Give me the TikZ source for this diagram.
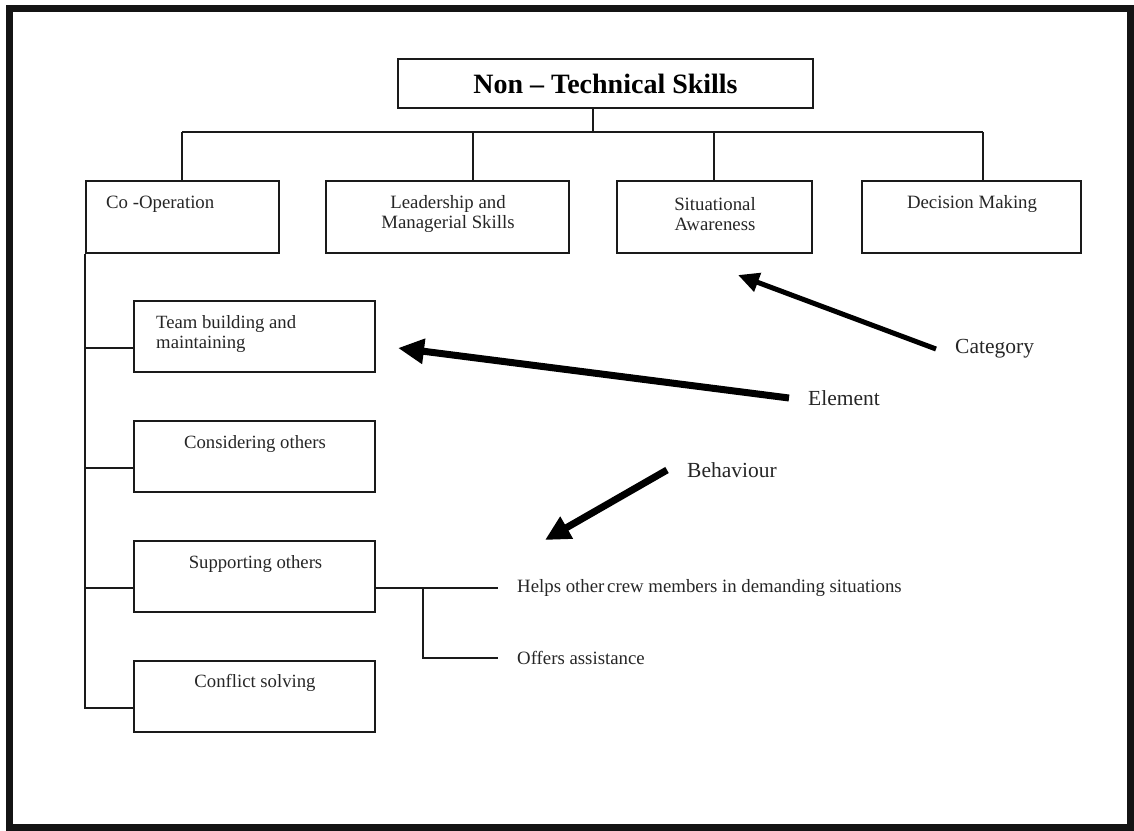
\documentclass[tikz,border=0pt]{standalone}
\usepackage{fontspec}
\setmainfont{Liberation Serif}
\usetikzlibrary{arrows.meta,calc}
\definecolor{ink}{HTML}{1A1A1A}
\definecolor{txt}{HTML}{262626}
\begin{document}
\begin{tikzpicture}[x=1pt,y=-1pt,
  conn/.style={draw=ink, line width=2pt},
  box/.style={draw=ink, line width=2pt, inner sep=0pt},
  catbox/.style={box, minimum height=72pt},
  elembox/.style={box, minimum width=241pt, minimum height=71pt},
  cattext/.style={text=txt, inner sep=0pt, align=center,
    font=\fontsize{18.8}{20.5}\selectfont},
  elemtext/.style={text=txt, inner sep=0pt, align=center,
    font=\fontsize{18.7}{20.5}\selectfont},
  behtext/.style={text=txt, inner sep=0pt, anchor=west,
    font=\fontsize{18.8}{20.5}\selectfont},
  tagtext/.style={text=txt, inner sep=0pt, anchor=west,
    font=\fontsize{21.5}{24}\selectfont},
  bigarrow/.style={draw=black, line width=#1, line cap=butt},
]
\useasboundingbox (0,0) rectangle (1134,830);
% outer frame
\draw[line width=6.5pt, black!92] (9.5,8.5) rectangle (1130.5,827.5);

% root
\node[box, minimum width=415pt, minimum height=49pt,
  font=\bfseries\fontsize{28}{30}\selectfont] (root) at (605.5,83.5)
  {Non -- Technical Skills};

% categories
\node[catbox, minimum width=193pt] (coop) at (182.5,217) {};
\node[catbox, minimum width=243pt] (lead) at (447.5,217) {};
\node[catbox, minimum width=195pt] (situ) at (714.5,217) {};
\node[catbox, minimum width=219pt] (deci) at (971.5,217) {};

\node[cattext, anchor=west] (coopT) at (106,204) {Co -Operation};
\node[cattext] (leadT) at (448,214) {Leadership and\\Managerial Skills};
\node[cattext] (situT) at (715,214) {Situational\\Awareness};
\node[cattext] (deciT) at (972,204) {Decision Making};

% bus from the root to the categories
\coordinate (bT) at (593,132);
\coordinate (b1) at (182,132);
\coordinate (b2) at (473,132);
\coordinate (b3) at (714,132);
\coordinate (b4) at (983,132);
\draw[conn] (bT |- root.south) -- (bT);
\draw[conn] (b1) -- (b4);
\draw[conn] (b1) -- (b1 |- coop.north);
\draw[conn] (b2) -- (b2 |- lead.north);
\draw[conn] (b3) -- (b3 |- situ.north);
\draw[conn] (b4) -- (b4 |- deci.north);

% elements of Co-Operation
\node[elembox] (team) at (254.5,336.5) {};
\node[elembox] (cons) at (254.5,456.5) {};
\node[elembox] (supp) at (254.5,576.5) {};
\node[elembox] (conf) at (254.5,696.5) {};

\node[elemtext, anchor=west, align=left] (teamT) at (156,334)
  {Team building and\\maintaining};
\node[elemtext] (consT) at (255,444) {Considering others};
\node[elemtext] (suppT) at (255.5,564) {Supporting others};
\node[elemtext] (confT) at (255,683) {Conflict solving};

\coordinate (tTeam) at ($(team.west)+(0,11.5)$);
\coordinate (tCons) at ($(cons.west)+(0,11.5)$);
\coordinate (tSupp) at ($(supp.west)+(0,11.5)$);
\coordinate (tConf) at ($(conf.west)+(0,11.5)$);
\draw[conn] (coop.south west) -- (coop.south west |- tConf) -- (tConf);
\draw[conn] (coop.south west |- tTeam) -- (tTeam);
\draw[conn] (coop.south west |- tCons) -- (tCons);
\draw[conn] (coop.south west |- tSupp) -- (tSupp);

% behaviours of Supporting others
\node[behtext] (helps) at (517,588)
  {Helps other\hspace{-0.1em} crew members in demanding situations};
\node[behtext] (offers) at (517,658) {Offers assistance};
\coordinate (sOut) at ($(supp.east)+(0,11.5)$);
\coordinate (hEnd) at ([xshift=-19pt]helps.west);
\coordinate (oEnd) at ([xshift=-19pt]offers.west);
\coordinate (br) at (423,588);
\draw[conn] (sOut) -- (sOut -| hEnd);
\draw[conn] (br) |- (oEnd);

% level tags with their arrows
\node[tagtext] (catL) at (955,349) {Category};
\node[tagtext] (elemL) at (808,398) {Element};
\node[tagtext] (behL) at (687,470) {Behaviour};
\coordinate (catTip) at (738,275);
\coordinate (elemTip) at (398,348);
\coordinate (behTip) at (545,540);
\draw[bigarrow=5pt, -{Triangle[length=21pt,width=19pt]}]
  ([xshift=-19pt]catL.west) -- (catTip);
\draw[bigarrow=7pt, -{Triangle[length=26pt,width=24pt]}]
  ([xshift=-19pt]elemL.west) -- (elemTip);
\draw[bigarrow=7pt, -{Triangle[length=25pt,width=24pt]}]
  ([xshift=-20pt]behL.west) -- (behTip);
\end{tikzpicture}
\end{document}
